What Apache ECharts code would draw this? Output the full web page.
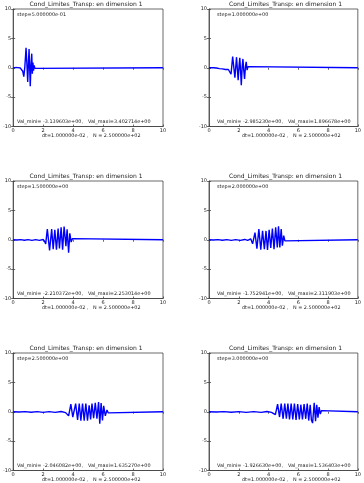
<!DOCTYPE html>
<html><head><meta charset="utf-8">
<script src="https://cdn.jsdelivr.net/npm/echarts@6/dist/echarts.min.js"></script>
<style>html,body{margin:0;padding:0;background:#fff}#c{width:364px;height:483px}</style>
</head><body><div id="c"></div>
<script>
// ---- data ----
const xTicks = [0, 2, 4, 6, 8, 10];
const yTicks = [-10, -5, 0, 5, 10];
const titleText = "Cond_Limites_Transp: en dimension 1";
const stepLabels = ["step=5.000000e-01","step=1.000000e+00","step=1.500000e+00","step=2.000000e+00","step=2.500000e+00","step=3.000000e+00"];
const valMini = ["-3.139603e+00","-2.985230e+00","-2.210372e+00","-1.752941e+00","-2.046082e+00","-1.926630e+00"];
const valMaxi = ["3.402714e+00","1.896678e+00","2.253014e+00","2.311903e+00","1.635270e+00","1.536403e+00"];
const dtLabel = "dt=1.000000e-02 ,";
const nLabel = "N = 2.500000e+02";

const p1X = [0,0.08,0.16,0.24,0.32,0.40,0.48,0.56,0.64,0.71,0.78,0.86,0.92,0.97,1.02,1.06,1.10,1.14,1.19,1.24,1.28,1.32,1.36,1.40,1.45,1.5,10];
const p1Y = [0,-0.1,0.03,-0.12,0.02,-0.15,-0.05,-0.3,-0.6,-1.5,0.2,3.4,0.5,-2.4,0.8,3.2,0.2,-3.14,0.4,2.4,-1.0,0.9,-0.5,0.4,-0.1,0,0];

const p2X = [0,0.3,0.5,0.6,0.7,0.8,0.9,1.0,1.1,1.2,1.3,1.4,1.48,1.59,1.67,1.74,1.8,1.85,1.9,1.96,2.02,2.07,2.12,2.17,2.23,2.28,2.33,2.39,2.45,2.5,2.56,2.62,2.7,10];
const p2Y = [0,0,-0.05,0.1,-0.15,0.15,-0.2,0.1,-0.3,0.0,-0.3,-0.6,-1.1,1.9,0,-1.7,0.2,1.8,0,-2.1,0.3,1.7,-0.5,-2.99,0.2,1.5,-0.3,-1.9,0.2,1.0,-0.4,0.2,0,0];

const p3X = [0,0.25,0.5,0.75,1.0,1.25,1.5,1.75,2.0,2.1,2.17,2.28,2.43,2.57,2.67,2.78,2.89,3.0,3.09,3.2,3.3,3.4,3.52,3.6,3.7,3.78,3.87,3.96,4.05,10];
const p3Y = [0,-0.05,0.02,-0.08,0.02,-0.1,0.02,-0.1,0.05,-0.3,-0.7,1.8,-1.8,1.8,-1.6,1.7,-1.7,1.9,-1.5,2.1,-1.7,2.25,-1.1,1.8,-2.21,1.1,-0.4,0.2,0,0];

const p4X = [0,0.3,0.6,0.9,1.2,1.5,1.8,2.1,2.4,2.6,2.8,2.93,3.09,3.22,3.35,3.48,3.6,3.72,3.83,3.93,4.04,4.15,4.26,4.37,4.48,4.59,4.67,4.76,4.85,4.93,5.02,5.1,5.2,10];
const p4Y = [0,-0.05,0.02,-0.08,0.02,-0.1,0.02,-0.1,0.05,-0.12,0.15,-0.7,1.2,-1.5,1.8,-1.7,1.5,-1.6,1.5,-1.75,1.7,-1.4,1.9,-1.6,2.1,-1.3,2.31,-1.3,1.8,-1.0,0.7,-0.2,0,0];

const p5X = [0,0.4,0.8,1.2,1.6,2.0,2.4,2.8,3.2,3.5,3.7,3.85,3.98,4.17,4.3,4.41,4.52,4.63,4.74,4.85,4.96,5.07,5.17,5.26,5.37,5.48,5.59,5.7,5.78,5.87,5.96,6.04,6.15,6.26,6.35,6.45,10];
const p5Y = [0,-0.05,0.02,-0.08,0.02,-0.1,0.02,-0.1,0.05,-0.15,-0.7,1.3,-0.9,1.4,-1.4,1.4,-1.5,1.4,-1.5,1.4,-1.5,1.1,-1.3,1.4,-1.1,1.5,-1.2,1.635,-2.05,1.5,-1.5,1.0,-0.7,0.3,-0.2,0,0];

const p6X = [0,0.5,1.0,1.5,2.0,2.5,3.0,3.5,3.9,4.2,4.3,4.46,4.61,4.74,4.85,4.98,5.09,5.2,5.3,5.41,5.52,5.63,5.74,5.85,5.96,6.07,6.17,6.28,6.39,6.5,6.6,6.7,6.8,6.88,6.96,7.07,7.16,7.24,7.32,7.4,7.48,7.56,7.64,10];
const p6Y = [0,-0.05,0.02,-0.08,0.02,-0.1,0.02,-0.1,0.05,-0.1,-0.2,-0.5,1.3,-0.9,1.4,-1.2,1.4,-1.2,1.4,-1.3,1.4,-1.3,1.4,-1.4,1.3,-1.3,1.2,-1.3,1.3,-1.2,1.4,-1.5,1.2,-1.4,-1.93,1.54,-1.6,1.2,-1.0,0.8,-0.4,0.2,0,0];

const panelsX = [p1X,p2X,p3X,p4X,p5X,p6X];
const panelsY = [p1Y,p2Y,p3Y,p4Y,p5Y,p6Y];

// ---- layout ----
const colLeft = [9, 209];
const colWidth = [154, 153];
const rowTop = [9, 181, 353];
const plotH = 117.5;
const FONT = "DejaVu Sans";
const AX = '#444';

const grids = [], xAxes = [], yAxes = [], series = [], graphics = [];
for (let i = 0; i < 6; i++) {
  const c = i % 2, r = Math.floor(i / 2);
  const L = colLeft[c], T = rowTop[r], W = colWidth[c], H = plotH;
  grids.push({left: L, top: T, width: W, height: H, show: true, borderColor: AX, borderWidth: 0.8, containLabel: false});
  const tick = {show: true, inside: true, length: 2, lineStyle: {color: AX, width: 0.8}};
  xAxes.push({type: 'value', gridIndex: i, min: 0, max: 10, interval: 2, position: 'bottom',
    axisLine: {show: true, onZero: false, lineStyle: {color: AX, width: 0.8}},
    axisTick: tick,
    axisLabel: {fontSize: 5, color: '#222', margin: 2, fontFamily: FONT},
    splitLine: {show: false}});
  xAxes.push({type: 'value', gridIndex: i, min: 0, max: 10, interval: 2, position: 'top',
    axisLine: {show: false}, axisTick: tick, axisLabel: {show: false}, splitLine: {show: false}});
  yAxes.push({type: 'value', gridIndex: i, min: -10, max: 10, interval: 5, position: 'left',
    axisLine: {show: true, lineStyle: {color: AX, width: 0.8}},
    axisTick: tick,
    axisLabel: {fontSize: 5, color: '#222', margin: 2, fontFamily: FONT},
    splitLine: {show: false}});
  yAxes.push({type: 'value', gridIndex: i, min: -10, max: 10, interval: 5, position: 'right',
    axisLine: {show: false}, axisTick: tick, axisLabel: {show: false}, splitLine: {show: false}});
  series.push({type: 'line', xAxisIndex: 2 * i, yAxisIndex: 2 * i, showSymbol: false, animation: false,
    lineStyle: {color: '#0000ff', width: 1.4},
    data: panelsX[i].map((x, k) => [x, panelsY[i][k]])});
  const ts = {fontSize: 4.9, fill: '#222', fontFamily: FONT};
  graphics.push({type: 'text', x: L + W / 2, y: T - 4.5, style: Object.assign({}, ts, {text: titleText, fontSize: 6, textAlign: 'center', textVerticalAlign: 'middle'})});
  graphics.push({type: 'text', x: L + 8, y: T + 6, style: Object.assign({}, ts, {text: stepLabels[i], textVerticalAlign: 'middle'})});
  graphics.push({type: 'text', x: L + 8, y: T + H - 5, style: Object.assign({}, ts, {text: "Val_mini= " + valMini[i] + ",", textVerticalAlign: 'middle'})});
  graphics.push({type: 'text', x: L + 79, y: T + H - 5, style: Object.assign({}, ts, {text: "Val_maxi=" + valMaxi[i], textVerticalAlign: 'middle'})});
  graphics.push({type: 'text', x: L + 33, y: T + H + 9.5, style: Object.assign({}, ts, {text: dtLabel, textVerticalAlign: 'middle'})});
  graphics.push({type: 'text', x: L + 84, y: T + H + 9.5, style: Object.assign({}, ts, {text: nLabel, textVerticalAlign: 'middle'})});
}

const chart = echarts.init(document.getElementById('c'), null, {renderer: 'canvas'});
chart.setOption({animation: false, backgroundColor: '#fff', grid: grids, xAxis: xAxes, yAxis: yAxes, series: series, graphic: graphics});
</script></body></html>
